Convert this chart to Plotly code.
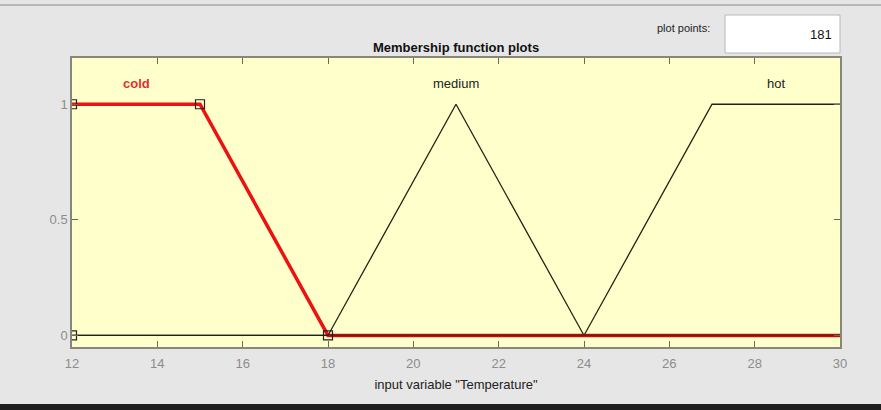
import plotly.graph_objects as go

# membership functions of input variable "Temperature"
cold_x = [12, 15, 18, 30]
cold_y = [1, 1, 0, 0]
cold_params_x = [12, 12, 15, 18]
cold_params_y = [0, 1, 1, 0]
medium_x = [12, 18, 21, 24, 30]
medium_y = [0, 0, 1, 0, 0]
hot_x = [12, 24, 27, 30]
hot_y = [0, 0, 1, 1]

mf_names = ["cold", "medium", "hot"]
label_x = [13.5, 21, 28.5]
x_ticks = [12, 14, 16, 18, 20, 22, 24, 26, 28, 30]
y_ticks = [0, 0.5, 1]

FONT = "Liberation Sans Narrow, Liberation Sans, Arial, sans-serif"
W, H = 881, 410
L, R, T, B = 72, 41, 58, 63

fig = go.Figure()

# selected MF (red, thick) drawn first
fig.add_trace(go.Scatter(x=cold_x, y=cold_y, mode="lines",
                         line=dict(color="#ee1111", width=3.5), hoverinfo="skip"))
fig.add_trace(go.Scatter(x=medium_x, y=medium_y, mode="lines",
                         line=dict(color="#222211", width=1.3), hoverinfo="skip"))
fig.add_trace(go.Scatter(x=hot_x, y=hot_y, mode="lines",
                         line=dict(color="#222211", width=1.3), hoverinfo="skip"))
fig.add_trace(go.Scatter(x=[18, 30], y=[0, 0], mode="lines",
                         line=dict(color="#8a1010", width=2), hoverinfo="skip"))
fig.add_trace(go.Scatter(x=cold_params_x, y=cold_params_y, mode="markers",
                         marker=dict(symbol="square-open", size=9,
                                     color="#222222", line=dict(width=1.2)),
                         cliponaxis=True, hoverinfo="skip"))

for name, lx in zip(mf_names, label_x):
    sel = name == "cold"
    fig.add_annotation(x=lx, y=1.09, text=f"<b>{name}</b>" if sel else name,
                       showarrow=False, yanchor="middle",
                       font=dict(size=13, color="#e03030" if sel else "#222222",
                                 family=FONT))

def px_x(p):
    return (p - L) / (W - L - R)

def px_y(p):
    return 1 - (p - T) / (H - T - B)

# window decorations
fig.add_shape(type="line", xref="paper", yref="paper",
              x0=px_x(0), x1=px_x(W), y0=px_y(5), y1=px_y(5),
              line=dict(color="#a8a8a8", width=1.5))
fig.add_shape(type="rect", xref="paper", yref="paper",
              x0=px_x(0), x1=px_x(W), y0=px_y(404), y1=px_y(410),
              line=dict(width=0), fillcolor="#1e1e1e")
fig.add_shape(type="rect", xref="paper", yref="paper",
              x0=px_x(725), x1=px_x(840), y0=px_y(15), y1=px_y(53),
              line=dict(color="#b8b8b8", width=1), fillcolor="white")
fig.add_annotation(xref="paper", yref="paper", x=px_x(834), y=px_y(34),
                   xanchor="right", yanchor="middle", text="181", showarrow=False,
                   font=dict(size=13, color="#111111", family=FONT))
fig.add_annotation(xref="paper", yref="paper", x=px_x(712), y=px_y(28),
                   xanchor="right", yanchor="middle", text="plot points:",
                   showarrow=False,
                   font=dict(size=11, color="#222222", family=FONT))
fig.add_annotation(xref="paper", yref="paper", x=0.5, y=px_y(47),
                   yanchor="middle",
                   text="<b>Membership function plots</b>", showarrow=False,
                   font=dict(size=13, color="#111111", family=FONT))

axis_common = dict(showline=True, mirror="ticks", linecolor="#86867a",
                   linewidth=1.5, ticks="inside", tickcolor="#6b6b5a",
                   ticklen=6, showgrid=False, zeroline=False,
                   tickfont=dict(size=13, color="#8c8c8c", family=FONT))

fig.update_layout(
    width=W, height=H,
    margin=dict(l=L, r=R, t=T, b=B),
    paper_bgcolor="#e6e6e6",
    plot_bgcolor="#ffffcc",
    showlegend=False,
    xaxis=dict(range=[12, 30], tickvals=x_ticks, ticklabelstandoff=4,
               title=dict(text='input variable "Temperature"', standoff=10,
                          font=dict(size=13, color="#222222", family=FONT)),
               **axis_common),
    yaxis=dict(range=[-0.05, 1.2], tickvals=y_ticks,
               ticktext=["0", "0.5", "1"], **axis_common),
)

fig.write_html("out.html", config={"displayModeBar": False},
               post_script="document.body.style.margin='0';")
